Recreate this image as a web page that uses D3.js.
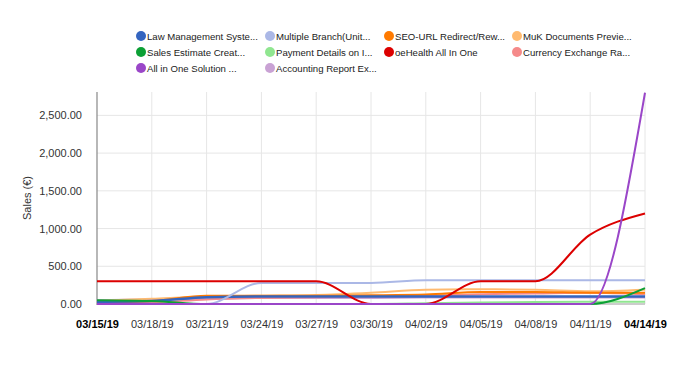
<!DOCTYPE html>
<html><head><meta charset="utf-8">
<script src="https://cdn.jsdelivr.net/npm/d3@7/dist/d3.min.js"></script>
<style>body{margin:0;background:#fff}svg{font-family:"Liberation Sans",Arial,sans-serif}</style>
</head><body><svg id="c" width="690" height="368"></svg>
<script>
const dates = ["03/15/19","03/18/19","03/21/19","03/24/19","03/27/19","03/30/19","04/02/19","04/05/19","04/08/19","04/11/19","04/14/19"];
const seriesNames = ["Law Management Syste...","Multiple Branch(Unit...","SEO-URL Redirect/Rew...","MuK Documents Previe...","Sales Estimate Creat...","Payment Details on I...","oeHealth All In One","Currency Exchange Ra...","All in One Solution ...","Accounting Report Ex..."];
const colors = ["#3465c0","#abb8e6","#ff7a00","#ffba70","#0ca035","#90e690","#dc0000","#f58a8a","#9a46c8","#c9a2d4"];
const lawMgmt      = [30, 40, 90, 100, 100, 100, 100, 100, 100, 100, 100];
const multiBranch  = [0, 0, 0, 280, 280, 280, 315, 315, 315, 315, 315];
const seoUrl       = [20, 40, 110, 110, 110, 115, 125, 160, 160, 150, 150];
const mukDocs      = [40, 70, 100, 110, 120, 150, 190, 195, 190, 170, 190];
const salesEst     = [50, 40, 0, 0, 0, 0, 0, 0, 0, 0, 210];
const paymentDet   = [0, 0, 0, 0, 0, 0, 10, 20, 25, 30, 30];
const oeHealth     = [300, 300, 300, 300, 300, 0, 0, 300, 300, 920, 1200];
const currencyEx   = [10, 20, 60, 80, 90, 100, 110, 130, 140, 150, 130];
const allInOne     = [0, 0, 0, 0, 0, 0, 0, 0, 0, 0, 2800];
const accounting   = [50, 60, 70, 80, 80, 80, 85, 85, 85, 85, 85];
const yTicks = [0, 500, 1000, 1500, 2000, 2500];
const values = [lawMgmt, multiBranch, seoUrl, mukDocs, salesEst, paymentDet, oeHealth, currencyEx, allInOne, accounting];

const svg = d3.select("#c");
const L = 97, R = 645, T = 92, B = 304;
const x = d3.scalePoint().domain(dates).range([L, R]);
const y = d3.scaleLinear().domain([0, 2810]).range([B, T]);

// grid
svg.append("g").selectAll("line").data(yTicks.slice(1)).join("line")
  .attr("x1", L).attr("x2", R).attr("y1", d => y(d)).attr("y2", d => y(d))
  .attr("stroke", "#e6e6e6").attr("stroke-width", 1);
svg.append("g").selectAll("line").data(dates.slice(1)).join("line")
  .attr("x1", d => x(d)).attr("x2", d => x(d)).attr("y1", T).attr("y2", B)
  .attr("stroke", "#e6e6e6").attr("stroke-width", 1);

// baseline
svg.append("line").attr("x1", L).attr("x2", R).attr("y1", y(0)).attr("y2", y(0)).attr("stroke", "#999");

// y axis
const yAxis = d3.axisLeft(y).tickValues(yTicks).tickFormat(d3.format(",.2f")).tickSize(0).tickPadding(15);
const ya = svg.append("g").attr("transform", `translate(${L},0)`).call(yAxis);
ya.select(".domain").remove();
ya.selectAll("text").attr("font-size", 11).attr("fill", "#333").attr("font-family", "Liberation Sans, Arial, sans-serif");
svg.append("line").attr("x1", L).attr("x2", L).attr("y1", T).attr("y2", B + 1).attr("stroke", "#888").attr("stroke-width", 1.2);

// x axis
const xAxis = d3.axisBottom(x).tickSize(0).tickPadding(16);
const xa = svg.append("g").attr("transform", `translate(0,${B})`).call(xAxis);
xa.select(".domain").remove();
xa.selectAll("text").attr("font-size", 11).attr("font-family", "Liberation Sans, Arial, sans-serif")
  .attr("font-weight", (d, i) => (i === 0 || i === dates.length - 1) ? "bold" : "normal")
  .attr("fill", (d, i) => (i === 0 || i === dates.length - 1) ? "#000" : "#333");

// y label
svg.append("text").attr("transform", "translate(31,198) rotate(-90)").attr("text-anchor", "middle")
  .attr("font-size", 11).attr("fill", "#333").text("Sales (€)");

// lines
const line = d3.line().x((d, i) => x(dates[i])).y(d => y(d)).curve(d3.curveMonotoneX);
const drawOrder = [9, 7, 5, 3, 2, 0, 1, 4, 6, 8];
svg.append("g").selectAll("path").data(drawOrder).join("path")
  .attr("d", k => line(values[k])).attr("fill", "none")
  .attr("stroke", k => colors[k]).attr("stroke-width", k => (k === 0 ? 2.5 : 2));

// legend
const colX = [141, 270, 389, 517];
const rowY = [36, 52, 68];
const lg = svg.append("g").selectAll("g").data(seriesNames).join("g")
  .attr("transform", (d, i) => `translate(${colX[i % 4]},${rowY[Math.floor(i / 4)]})`);
lg.append("circle").attr("r", 5).attr("fill", (d, i) => colors[i]);
lg.append("text").attr("x", 6).attr("y", 3.5).attr("font-size", 9.6).attr("fill", "#222").text(d => d);
</script></body></html>
